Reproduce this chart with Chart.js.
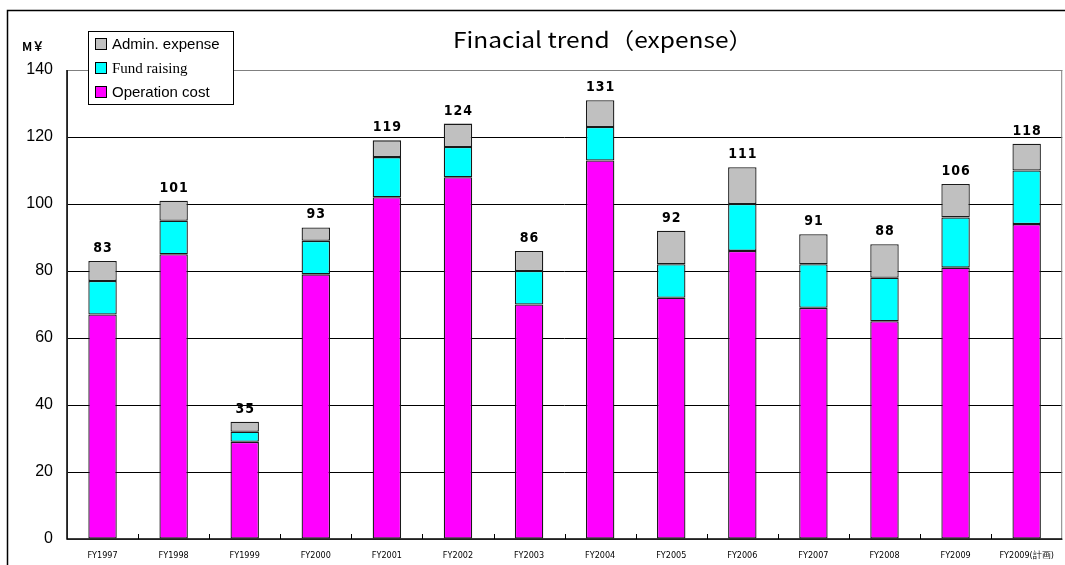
<!DOCTYPE html>
<html><head><meta charset="utf-8">
<script src="https://cdn.jsdelivr.net/npm/chart.js@4/dist/chart.umd.min.js"></script>
<style>html,body{margin:0;padding:0;background:#fff;}#wrap{width:1065px;height:565px;position:relative;}</style>
</head><body>
<div id="wrap"><canvas id="c" width="1065" height="565"></canvas></div>
<script>
const categories = ["FY1997","FY1998","FY1999","FY2000","FY2001","FY2002","FY2003","FY2004","FY2005","FY2006","FY2007","FY2008","FY2009","FY2009(計画)"];
const operationCost = [67,85,29,79,102,108,70,113,72,86,69,65,81,94];
const fundRaising   = [10,10,3,10,12,9,10,10,10,14,13,13,15,16];
const adminExpense  = [6,6,3,4,5,7,6,8,10,11,9,10,10,8];
const totals        = [83,101,35,93,119,124,86,131,92,111,91,88,106,118];
const yTicks = [0,20,40,60,80,100,120,140];

const frame = {
  id:'frame',
  beforeDraw(chart){
    const ctx = chart.ctx;
    ctx.save();
    ctx.fillStyle='#fff'; ctx.fillRect(0,0,chart.width,chart.height);
    ctx.strokeStyle='#000'; ctx.lineWidth=1.5;
    ctx.beginPath(); ctx.moveTo(7.5,565); ctx.lineTo(7.5,10.5); ctx.lineTo(1065,10.5); ctx.stroke();
    ctx.restore();
  },
  afterDraw(chart){
    const ctx = chart.ctx, ca = chart.chartArea;
    ctx.save();
    ctx.strokeStyle='#808080'; ctx.lineWidth=1;
    ctx.strokeRect(ca.left+0.5, ca.top+0.5, ca.right-ca.left-1, ca.bottom-ca.top);
    ctx.strokeStyle='#000'; ctx.lineWidth=1.5;
    ctx.beginPath(); ctx.moveTo(ca.left,ca.top); ctx.lineTo(ca.left,ca.bottom); ctx.lineTo(ca.right,ca.bottom); ctx.stroke();
    const xs = chart.scales.x;
    ctx.lineWidth=1;
    for(let i=1;i<categories.length;i++){
      const x = Math.round((xs.getPixelForValue(i-1)+xs.getPixelForValue(i))/2)+0.5;
      ctx.beginPath(); ctx.moveTo(x,ca.bottom); ctx.lineTo(x,ca.bottom-5); ctx.stroke();
    }
    // title
    ctx.fillStyle='#000';
    ctx.font='22px "Noto Sans CJK JP", "DejaVu Sans", sans-serif';
    ctx.textAlign='left'; ctx.textBaseline='alphabetic';
    const title='Finacial trend（expense）';
    const w = ctx.measureText(title).width;
    ctx.save();
    ctx.translate(453, 48);
    ctx.scale(300/w, 1);
    ctx.fillText(title, 0, 0);
    ctx.restore();
    // unit
    ctx.font='bold 12px "Noto Sans CJK JP", "DejaVu Sans", sans-serif';
    ctx.textAlign='left'; ctx.textBaseline='middle';
    ctx.fillText('M￥', 22, 46);
    // totals
    const ys = chart.scales.y;
    ctx.font='bold 14px "DejaVu Sans Condensed", "DejaVu Sans", sans-serif';
    ctx.textAlign='center'; ctx.textBaseline='alphabetic';
    try{ ctx.letterSpacing='1px'; }catch(e){}
    totals.forEach((t,i)=>{
      ctx.fillText(String(t), xs.getPixelForValue(i)+0.5, ys.getPixelForValue(t)-9);
    });
    try{ ctx.letterSpacing='0px'; }catch(e){}
    // legend
    const lx=88, ly=31, lw=145, lh=73;
    ctx.fillStyle='#fff'; ctx.fillRect(lx,ly,lw,lh);
    ctx.strokeStyle='#000'; ctx.lineWidth=1; ctx.strokeRect(lx+0.5,ly+0.5,lw,lh);
    const items = [chart.data.datasets[2], chart.data.datasets[1], chart.data.datasets[0]];
    const fonts = ['15px "Liberation Sans", Arial, sans-serif','15px "Liberation Serif", "Times New Roman", serif','15px "Liberation Sans", Arial, sans-serif'];
    items.forEach((d,k)=>{
      const cy = ly+13+k*24;
      ctx.fillStyle=d.backgroundColor; ctx.fillRect(lx+7.5,cy-5.5,11,11);
      ctx.strokeStyle='#000'; ctx.strokeRect(lx+7.5,cy-5.5,11,11);
      ctx.fillStyle='#000'; ctx.font=fonts[k]; ctx.textAlign='left'; ctx.textBaseline='middle';
      ctx.fillText(d.label, lx+24, cy+1);
    });
    ctx.restore();
  }
};

new Chart(document.getElementById('c'), {
  type:'bar',
  data:{
    labels:categories,
    datasets:[
      {label:'Operation cost', data:operationCost, backgroundColor:'#ff00ff', borderColor:'#1a1a1a', borderWidth:1.3, borderSkipped:false},
      {label:'Fund raising', data:fundRaising, backgroundColor:'#00ffff', borderColor:'#1a1a1a', borderWidth:1.3, borderSkipped:false},
      {label:'Admin. expense', data:adminExpense, backgroundColor:'#c0c0c0', borderColor:'#1a1a1a', borderWidth:1.3, borderSkipped:false}
    ]
  },
  options:{
    responsive:false, animation:false,
    layout:{padding:{left:0,top:70,right:2,bottom:0}},
    datasets:{bar:{categoryPercentage:1, barPercentage:0.4}},
    plugins:{legend:{display:false}, title:{display:false}, tooltip:{enabled:false}},
    scales:{
      x:{stacked:true, grid:{display:false, drawTicks:false}, border:{display:false},
         ticks:{font:{size:9, family:'"DejaVu Sans Condensed", "DejaVu Sans", sans-serif'}, color:'#000', padding:11, maxRotation:0, autoSkip:false},
         afterFit(s){s.height=26;}},
      y:{stacked:true, min:0, max:140, grid:{color:'#000', lineWidth:1, drawTicks:false}, border:{display:false},
         afterBuildTicks(s){s.ticks = yTicks.map(v=>({value:v}));},
         ticks:{font:{size:16, family:'"Liberation Sans", Arial, sans-serif'}, color:'#000', padding:14},
         afterFit(s){s.width=67;}}
    }
  },
  plugins:[frame]
});
</script>
</body></html>
